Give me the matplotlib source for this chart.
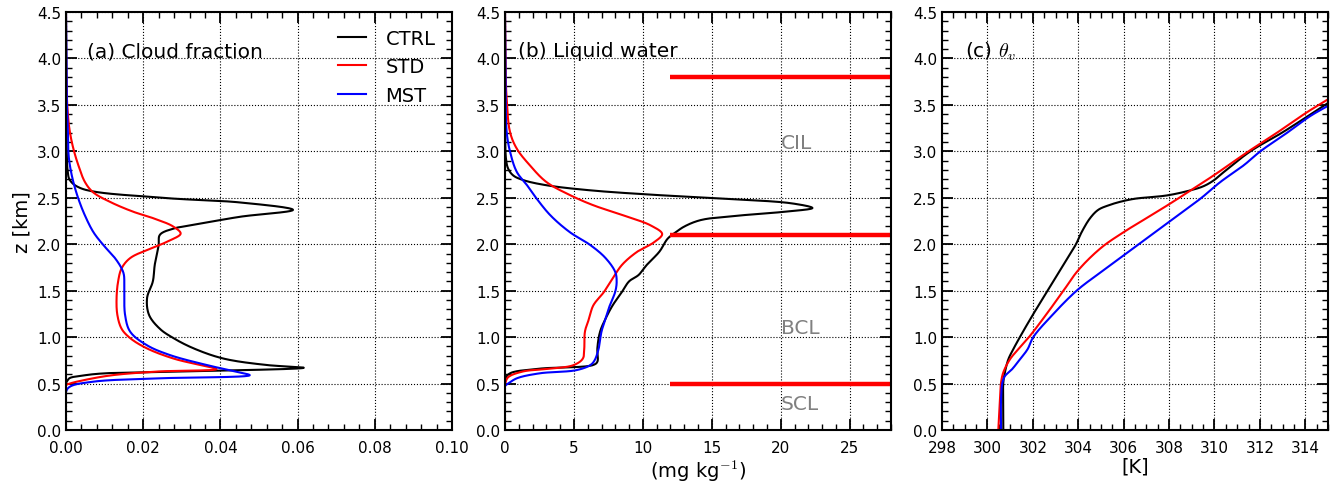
import numpy as np
import matplotlib
matplotlib.use("Agg")
import matplotlib.pyplot as plt
from matplotlib.ticker import MultipleLocator, FormatStrFormatter

# ---------------- data ----------------
# (a) cloud fraction profiles: height [km] and value
cf_ctrl_z = [4.5, 3.5, 3.0, 2.8, 2.69, 2.6, 2.5, 2.45, 2.37, 2.295, 2.2, 2.17, 2.1, 1.99, 1.78, 1.6,
             1.42, 1.24, 1.09, 0.99, 0.88, 0.77, 0.70, 0.67, 0.63, 0.61, 0.59, 0.56, 0.54, 0.5, 0.0]
cf_ctrl_x = [0.0, 0.0001, 0.0002, 0.0004, 0.001, 0.004, 0.025, 0.045, 0.0588, 0.045, 0.032, 0.028, 0.0243,
             0.024, 0.023, 0.0225, 0.021, 0.0215, 0.0243, 0.0278, 0.033, 0.0407, 0.0519, 0.0616, 0.03,
             0.01, 0.005, 0.001, 0.0005, 0.0, 0.0]

cf_std_z = [4.5, 3.75, 3.39, 3.21, 3.03, 2.85, 2.67, 2.56, 2.456, 2.35, 2.28, 2.19, 2.115, 2.04, 1.95,
            1.85, 1.74, 1.6, 1.42, 1.24, 1.09, 0.99, 0.88, 0.77, 0.70, 0.656, 0.63, 0.59, 0.54, 0.5,
            0.48, 0.0]
cf_std_x = [0.0, 0.0001, 0.0005, 0.001, 0.0019, 0.0032, 0.0049, 0.007, 0.0114, 0.0174, 0.0226, 0.0278,
            0.0297, 0.0269, 0.0217, 0.0166, 0.0144, 0.0135, 0.0131, 0.0133, 0.0144, 0.0166, 0.0209,
            0.0278, 0.0347, 0.039, 0.024, 0.012, 0.005, 0.001, 0.0, 0.0]

cf_mst_z = [4.5, 3.57, 3.21, 3.0, 2.85, 2.67, 2.49, 2.31, 2.13, 1.99, 1.85, 1.74, 1.67, 1.52, 1.24,
            1.06, 0.914, 0.807, 0.70, 0.627, 0.59, 0.556, 0.52, 0.466, 0.41, 0.0]
cf_mst_x = [0.0, 0.0002, 0.0005, 0.0006, 0.001, 0.0019, 0.0032, 0.0049, 0.0071, 0.0097, 0.0127, 0.0144,
            0.015, 0.0151, 0.0153, 0.0166, 0.0209, 0.0269, 0.0364, 0.0441, 0.0476, 0.024, 0.007, 0.001,
            0.0, 0.0]

# (b) liquid water [mg/kg]
lw_ctrl_z = [4.5, 3.5, 2.92, 2.81, 2.74, 2.69, 2.635, 2.58, 2.53, 2.49, 2.44, 2.39, 2.35, 2.31, 2.26,
             2.19, 2.13, 2.06, 1.92, 1.78, 1.67, 1.6, 1.49, 1.34, 1.2, 1.06, 0.88, 0.735, 0.70, 0.66,
             0.61, 0.56, 0.5, 0.0]
lw_ctrl_x = [0.0, 0.02, 0.07, 0.24, 0.6, 1.33, 3.0, 6.2, 11.0, 15.9, 20.8, 22.3, 20.3, 17.1, 14.2,
             13.0, 12.4, 11.8, 11.2, 10.3, 9.7, 9.0, 8.5, 7.8, 7.3, 6.9, 6.7, 6.7, 6.4, 2.5, 0.36, 0.05,
             0.0, 0.0]

lw_std_z = [4.5, 3.8, 3.57, 3.21, 3.03, 2.85, 2.67, 2.53, 2.42, 2.31, 2.2, 2.11, 2.02, 1.92, 1.78,
            1.63, 1.49, 1.34, 1.2, 1.06, 0.88, 0.77, 0.70, 0.66, 0.63, 0.57, 0.52, 0.48, 0.0]
lw_std_x = [0.0, 0.05, 0.12, 0.36, 0.85, 1.8, 3.0, 4.7, 6.4, 8.6, 10.6, 11.4, 10.8, 9.6, 8.5, 7.8,
            7.2, 6.4, 6.1, 5.8, 5.75, 5.65, 5.0, 3.3, 1.3, 0.24, 0.05, 0.0, 0.0]

lw_mst_z = [4.5, 3.57, 3.21, 3.0, 2.78, 2.635, 2.49, 2.31, 2.13, 1.99, 1.85, 1.70, 1.6, 1.49, 1.34,
            1.2, 1.06, 0.88, 0.75, 0.70, 0.645, 0.61, 0.556, 0.5, 0.47, 0.0]
lw_mst_x = [0.0, 0.05, 0.12, 0.36, 0.85, 1.6, 2.3, 3.3, 4.7, 6.2, 7.3, 8.0, 8.1, 8.0, 7.6, 7.3, 7.0,
            6.8, 6.5, 6.2, 5.2, 2.5, 0.85, 0.24, 0.0, 0.0]

# layer boundaries [km] and region names
layer_tops = [3.8, 2.1, 0.5]
layer_names = ["CIL", "BCL", "SCL"]
layer_name_z = [3.09, 1.1, 0.28]

# (c) virtual potential temperature [K]
th_ctrl_z = [0.0, 0.33, 0.51, 0.62, 0.76, 0.87, 1.0, 1.24, 1.5, 1.76, 2.0, 2.13, 2.28, 2.37, 2.42,
             2.46, 2.49, 2.525, 2.58, 2.625, 2.686, 2.775, 3.0, 3.2, 3.42, 3.52]
th_ctrl_x = [300.70, 300.69, 300.70, 300.77, 300.92, 301.14, 301.43, 302.0, 302.65, 303.3, 303.9,
             304.15, 304.52, 304.88, 305.35, 305.9, 306.5, 307.9, 308.94, 309.52, 309.96, 310.4,
             311.58, 312.97, 314.37, 315.0]

th_std_z = [0.0, 0.33, 0.51, 0.62, 0.76, 0.87, 1.0, 1.23, 1.5, 1.72, 1.96, 2.13, 2.28, 2.43, 2.6,
            2.74, 3.0, 3.2, 3.42, 3.56]
th_std_x = [300.48, 300.55, 300.6, 300.70, 300.99, 301.36, 301.83, 302.55, 303.35, 304.0, 305.0,
            306.0, 307.0, 308.0, 309.08, 309.96, 311.5, 312.75, 314.07, 315.0]

th_mst_z = [0.0, 0.33, 0.51, 0.58, 0.65, 0.76, 0.87, 1.0, 1.23, 1.5, 1.70, 1.88, 2.06, 2.24, 2.49,
            2.67, 2.85, 3.0, 3.2, 3.38, 3.49]
th_mst_x = [300.6, 300.6, 300.66, 300.77, 301.07, 301.43, 301.77, 302.02, 302.83, 303.93, 305.0,
            306.0, 307.0, 308.0, 309.38, 310.26, 311.29, 312.02, 313.2, 314.22, 315.0]

run_names = ["CTRL", "STD", "MST"]
run_colors = ["black", "red", "blue"]

# ---------------- figure ----------------
plt.rcParams["font.family"] = ["DejaVu Sans"]
plt.rcParams["mathtext.fontset"] = "cm"

fig = plt.figure(figsize=(13.43, 4.89), dpi=100)
W, H = 1343.0, 489.0
lefts = [66, 505, 942]
ax_w, ax_b, ax_h = 386, 58, 418
axes = [fig.add_axes([l / W, ax_b / H, ax_w / W, ax_h / H]) for l in lefts]


def spline(x, z, xspan, n=24):
    """Centripetal Catmull-Rom curve through the profile points."""
    P = np.column_stack([np.asarray(x, float) / xspan, np.asarray(z, float) / 4.5])
    P = np.vstack([2 * P[0] - P[1], P, 2 * P[-1] - P[-2]])
    out = [P[1]]
    for i in range(1, len(P) - 2):
        p0, p1, p2, p3 = P[i - 1], P[i], P[i + 1], P[i + 2]
        d01 = max(np.linalg.norm(p1 - p0), 1e-9) ** 0.5
        d12 = max(np.linalg.norm(p2 - p1), 1e-9) ** 0.5
        d23 = max(np.linalg.norm(p3 - p2), 1e-9) ** 0.5
        t0, t1 = 0.0, d01
        t2 = t1 + d12
        t3 = t2 + d23
        t = np.linspace(t1, t2, n)[1:, None]
        a1 = (t1 - t) / (t1 - t0) * p0 + (t - t0) / (t1 - t0) * p1
        a2 = (t2 - t) / (t2 - t1) * p1 + (t - t1) / (t2 - t1) * p2
        a3 = (t3 - t) / (t3 - t2) * p2 + (t - t2) / (t3 - t2) * p3
        b1 = (t2 - t) / (t2 - t0) * a1 + (t - t0) / (t2 - t0) * a2
        b2 = (t3 - t) / (t3 - t1) * a2 + (t - t1) / (t3 - t1) * a3
        c = (t2 - t) / (t2 - t1) * b1 + (t - t1) / (t2 - t1) * b2
        out.extend(c)
    out = np.array(out)
    return out[:, 0] * xspan, out[:, 1] * 4.5


def style(ax, xlim, xmajor, xminor):
    ax.set_xlim(*xlim)
    ax.set_ylim(0, 4.5)
    ax.xaxis.set_major_locator(MultipleLocator(xmajor))
    ax.xaxis.set_minor_locator(MultipleLocator(xminor))
    ax.yaxis.set_major_locator(MultipleLocator(0.5))
    ax.yaxis.set_minor_locator(MultipleLocator(0.1))
    ax.tick_params(which="both", direction="in", top=True, right=True, labelsize=11)
    ax.tick_params(which="major", length=8, width=1.3)
    ax.tick_params(which="minor", length=4, width=1.0)
    ax.tick_params(axis="x", which="major", pad=7)
    ax.grid(True, which="major", color="black", linestyle=":", linewidth=0.8)
    for s in ax.spines.values():
        s.set_linewidth(1.5)


lw = 1.5
title_fs = 14.5

# (a) cloud fraction
ax = axes[0]
for (x, z), name, c in zip([(cf_ctrl_x, cf_ctrl_z), (cf_std_x, cf_std_z), (cf_mst_x, cf_mst_z)],
                           run_names, run_colors):
    xs, zs = spline(x, z, 0.1)
    ax.plot(xs, zs, color=c, lw=lw, label=name)
style(ax, (0, 0.1), 0.02, 0.004)
ax.xaxis.set_major_formatter(FormatStrFormatter("%.2f"))
ax.set_ylabel("z [km]", fontsize=14)
ax.text(0.055, 0.907, "(a) Cloud fraction", transform=ax.transAxes, fontsize=title_fs, va="center")
ax.legend(loc="upper right", frameon=False, fontsize=14, handlelength=1.45,
          bbox_to_anchor=(1.0, 1.0), borderaxespad=0.45, labelspacing=0.5, handletextpad=1.0)

# (b) liquid water
ax = axes[1]
for (x, z), c in zip([(lw_ctrl_x, lw_ctrl_z), (lw_std_x, lw_std_z), (lw_mst_x, lw_mst_z)], run_colors):
    xs, zs = spline(x, z, 28.0)
    ax.plot(xs, zs, color=c, lw=lw)
for zt in layer_tops:
    ax.plot([12, 28], [zt, zt], color="red", lw=3.2, solid_capstyle="butt")
for name, zt in zip(layer_names, layer_name_z):
    ax.text(20, zt, name, color="gray", fontsize=title_fs, va="center", ha="left")
style(ax, (0, 28), 5, 1)
ax.set_xlabel("(mg kg$^{-1}$)", fontsize=14, labelpad=2)
ax.text(0.034, 0.907, "(b) Liquid water", transform=ax.transAxes, fontsize=title_fs, va="center")

# (c) virtual potential temperature
ax = axes[2]
for (x, z), c in zip([(th_ctrl_x, th_ctrl_z), (th_std_x, th_std_z), (th_mst_x, th_mst_z)], run_colors):
    xs, zs = spline(x, z, 17.0)
    ax.plot(xs, zs, color=c, lw=lw)
style(ax, (298, 315), 2, 0.5)
ax.set_xlabel("[K]", fontsize=14, labelpad=1)
ax.text(0.06, 0.907, r"(c) $\theta_v$", transform=ax.transAxes, fontsize=title_fs, va="center")

fig.savefig("out.png", dpi=100)
